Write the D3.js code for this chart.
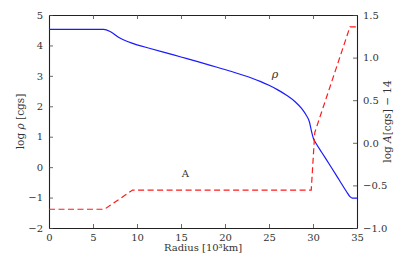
<!DOCTYPE html>
<html>
<head>
<meta charset="utf-8">
<script src="https://cdn.jsdelivr.net/npm/d3@7"></script>
<style>
  body { margin: 0; background: #fff; }
  text { font-family: 'DejaVu Serif', serif !important; }
</style>
</head>
<body>
<div id="chart"></div>
<script>
// density profile (left axis)
const rhoRadius = [0, 6.2, 7, 8, 9, 10, 11.5, 13, 15, 17, 19, 21, 23, 24, 25, 26, 27, 28, 28.7, 29.2, 29.6, 29.85, 30.1, 30.3, 31, 32, 33, 33.8, 34.2, 34.5, 35];
const rhoLog    = [4.53, 4.53, 4.45, 4.25, 4.12, 4.02, 3.9, 3.78, 3.62, 3.46, 3.29, 3.12, 2.93, 2.82, 2.69, 2.54, 2.36, 2.14, 1.93, 1.72, 1.48, 1.15, 0.9, 0.8, 0.48, 0.03, -0.43, -0.8, -0.97, -1.02, -1.02];

// A profile (right axis, log A - 14)
const aRadius = [0, 6.3, 9.5, 29.8, 30.2, 34.2, 35];
const aLog    = [-0.78, -0.78, -0.555, -0.555, 0.12, 1.36, 1.36];

const xTicks = [0, 5, 10, 15, 20, 25, 30, 35];
const yLeftTicks = [-2, -1, 0, 1, 2, 3, 4, 5];
const yRightTicks = [-1.0, -0.5, 0.0, 0.5, 1.0, 1.5];

const W = 415, H = 260;
const m = {left: 49, right: 58, top: 15, bottom: 32};
const iw = W - m.left - m.right, ih = H - m.top - m.bottom;
const FONT = 'DejaVu Serif';

const x = d3.scaleLinear().domain([0, 35]).range([0, iw]);
const yL = d3.scaleLinear().domain([-2, 5]).range([ih, 0]);
const yR = d3.scaleLinear().domain([-1, 1.5]).range([ih, 0]);

const minus = s => s.replace('-', '\u2212');

const svg = d3.select('#chart').append('svg')
  .attr('width', W).attr('height', H)
  .attr('font-family', FONT);

const g = svg.append('g').attr('transform', `translate(${m.left},${m.top})`);

// axes, ticks pointing inward
g.append('g').attr('transform', `translate(0,${ih})`)
  .call(d3.axisBottom(x).tickValues(xTicks).tickSizeInner(-4).tickSizeOuter(0).tickPadding(6).tickFormat(d3.format('d')));
g.append('g')
  .call(d3.axisTop(x).tickValues(xTicks).tickSizeInner(-4).tickSizeOuter(0).tickFormat(''));
g.append('g')
  .call(d3.axisLeft(yL).tickValues(yLeftTicks).tickSizeInner(-4).tickSizeOuter(0).tickPadding(6)
    .tickFormat(d => minus(d3.format('d')(d))));
g.append('g').attr('transform', `translate(${iw},0)`)
  .call(d3.axisRight(yR).tickValues(yRightTicks).tickSizeInner(-4).tickSizeOuter(0).tickPadding(6)
    .tickFormat(d => minus(d3.format('.1f')(d))));

g.selectAll('.domain').attr('stroke', '#222').attr('stroke-width', 1.1);
g.selectAll('.tick line').attr('stroke', '#444').attr('stroke-width', 0.8);
g.selectAll('.tick text').attr('font-size', 10).attr('fill', '#333');

// blue rho line
const rhoPts = rhoRadius.map((r, i) => [r, rhoLog[i]]);
g.append('path')
  .datum(rhoPts)
  .attr('fill', 'none')
  .attr('stroke', '#1a1aff')
  .attr('stroke-width', 1.2)
  .attr('d', d3.line().x(d => x(d[0])).y(d => yL(d[1])).curve(d3.curveMonotoneX));

// red dashed A line
const aPts = aRadius.map((r, i) => [r, aLog[i]]);
g.append('path')
  .datum(aPts)
  .attr('fill', 'none')
  .attr('stroke', '#ff1a1a')
  .attr('stroke-width', 1.2)
  .attr('stroke-dasharray', '6,3.5')
  .attr('d', d3.line().x(d => x(d[0])).y(d => yR(d[1])));

// curve labels
g.append('text').attr('x', x(25.3)).attr('y', yL(2.92)).attr('font-size', 11).attr('font-style', 'italic').attr('fill', '#333').text('\u03c1');
g.append('text').attr('x', x(15.5)).attr('y', yR(-0.4)).attr('text-anchor', 'middle').attr('font-size', 10).attr('fill', '#333').text('A');

// axis titles
svg.append('text')
  .attr('x', m.left + iw / 2).attr('y', H - 9)
  .attr('text-anchor', 'middle').attr('font-size', 10).attr('fill', '#333')
  .text('Radius [10\u00b3km]');

svg.append('text')
  .attr('transform', `translate(24,${m.top + ih / 2}) rotate(-90)`)
  .attr('text-anchor', 'middle').attr('font-size', 10.5).attr('fill', '#333')
  .html('log <tspan font-style="italic">\u03c1</tspan> [cgs]');

svg.append('text')
  .attr('transform', `translate(391,${m.top + ih / 2}) rotate(-90)`)
  .attr('text-anchor', 'middle').attr('font-size', 10.5).attr('fill', '#333')
  .html('log <tspan font-style="italic">A</tspan>[cgs] \u2212 14');

svg.selectAll('g').attr('font-family', FONT);
</script>
</body>
</html>
